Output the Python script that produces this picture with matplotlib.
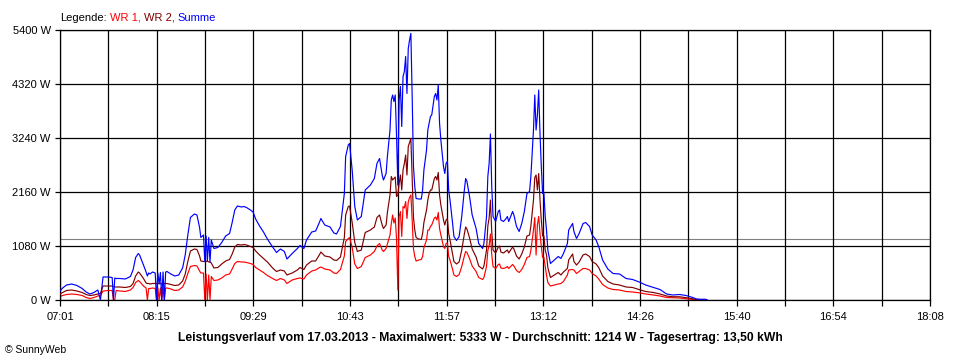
import numpy as np
import matplotlib.pyplot as plt

plt.rcParams['font.family'] = ['Liberation Sans', 'DejaVu Sans']

# Leistungsverlauf 17.03.2013 (Werte in W)
zeit = ['07:01', '07:03', '07:06', '07:10', '07:14', '07:18', '07:21', '07:24', '07:27', '07:30',
        '07:32', '07:34', '07:38', '07:41', '07:42', '07:43', '07:44', '07:47', '07:51', '07:55',
        '07:57', '07:59', '08:01', '08:02', '08:05', '08:07', '08:08', '08:09', '08:10', '08:12',
        '08:14', '08:15', '08:16', '08:17', '08:18', '08:19', '08:20', '08:21', '08:22', '08:23',
        '08:26', '08:29', '08:32', '08:35', '08:37', '08:39', '08:41', '08:44', '08:46', '08:48',
        '08:49', '08:51', '08:52', '08:53', '08:54', '08:55', '08:56', '08:57', '08:59', '09:02',
        '09:05', '09:08', '09:11', '09:13', '09:15', '09:17', '09:20', '09:22', '09:24', '09:27',
        '09:29', '09:31', '09:34', '09:37', '09:40', '09:44', '09:47', '09:50', '09:53', '09:55',
        '09:59', '10:03', '10:05', '10:08', '10:10', '10:14', '10:17', '10:20', '10:21', '10:24',
        '10:28', '10:31', '10:33', '10:36', '10:39', '10:40', '10:42', '10:43', '10:45', '10:47',
        '10:49', '10:52', '10:55', '10:59', '11:02', '11:04', '11:06', '11:08', '11:09', '11:11',
        '11:12', '11:14', '11:15', '11:16', '11:17', '11:18', '11:19', '11:20', '11:21', '11:22',
        '11:23', '11:24', '11:25', '11:26', '11:27', '11:28', '11:29', '11:30', '11:31', '11:32',
        '11:33', '11:34', '11:36', '11:38', '11:39', '11:40', '11:42', '11:43', '11:44', '11:45',
        '11:46', '11:48', '11:49', '11:50', '11:51', '11:52', '11:53', '11:55', '11:56', '11:57',
        '11:58', '11:59', '12:00', '12:02', '12:03', '12:05', '12:07', '12:09', '12:11', '12:12',
        '12:13', '12:15', '12:17', '12:20', '12:22', '12:25', '12:26', '12:28', '12:29', '12:30',
        '12:31', '12:32', '12:33', '12:35', '12:37', '12:38', '12:39', '12:41', '12:43', '12:44',
        '12:45', '12:48', '12:49', '12:51', '12:53', '12:55', '12:57', '12:59', '13:01', '13:02',
        '13:04', '13:05', '13:06', '13:07', '13:08', '13:09', '13:10', '13:11', '13:12', '13:13',
        '13:14', '13:15', '13:17', '13:20', '13:23', '13:25', '13:27', '13:30', '13:31', '13:34',
        '13:35', '13:37', '13:39', '13:42', '13:44', '13:47', '13:49', '13:52', '13:54', '13:57',
        '14:01', '14:05', '14:10', '14:15', '14:20', '14:26', '14:30', '14:36', '14:41', '14:46',
        '14:51', '14:56', '15:01', '15:06', '15:09', '15:12', '15:16', '15:17']

summe = [180, 240, 300, 320, 290, 230, 160, 120, 150, 200,
         0, 460, 460, 450, 0, 440, 430, 430, 420, 470,
         600, 850, 930, 900, 700, 560, 480, 540, 520, 560,
         540, 0, 540, 320, 550, 0, 560, 0, 560, 570,
         520, 480, 500, 640, 900, 1300, 1650, 1720, 1700, 1450,
         1250, 1300, 770, 1280, 780, 1250, 760, 1200, 1030, 1050,
         1150, 1280, 1330, 1550, 1800, 1880, 1860, 1870, 1850, 1800,
         1760, 1620, 1480, 1360, 1220, 1060, 950, 1020, 970, 820,
         930, 1030, 1090, 1030, 1200, 1360, 1380, 1560, 1630, 1500,
         1460, 1340, 1320, 1470, 2130, 2870, 3100, 3130, 2600, 1870,
         1600, 1670, 2200, 2300, 2430, 2730, 2830, 2500, 2400, 2530,
         2870, 3400, 4000, 4100, 3970, 4100, 3300, 2300, 4000, 4270,
         3470, 4470, 4570, 4870, 4130, 5030, 5200, 5333, 4070, 2670,
         2270, 2030, 2020, 2020, 2200, 2600, 3000, 3400, 3530, 3670,
         3700, 4070, 4130, 4000, 4300, 3530, 3200, 2670, 2530, 2730,
         2770, 2200, 2000, 1530, 1270, 1190, 1270, 1670, 2200, 2430,
         2370, 2070, 1700, 1430, 1130, 1030, 1130, 1670, 2470, 2730,
         3320, 2270, 1670, 1570, 1770, 1800, 1600, 1570, 1630, 1670,
         1570, 1770, 1700, 1470, 1370, 1530, 1770, 2130, 2170, 2470,
         3400, 4100, 3400, 3700, 4200, 3330, 2670, 2130, 2130, 1670,
         1400, 1000, 730, 800, 870, 830, 930, 1130, 1400, 1530,
         1370, 1230, 1330, 1530, 1550, 1470, 1300, 1200, 1070, 800,
         620, 530, 520, 430, 410, 350, 300, 250, 210, 120,
         100, 110, 90, 50, 20, 15, 15, 0]

wr2 = [120, 150, 190, 200, 180, 150, 110, 90, 100, 120,
       130, 280, 280, 280, 270, 260, 260, 260, 250, 270,
       330, 480, 560, 540, 430, 340, 330, 330, 320, 330,
       330, 330, 330, 330, 330, 320, 330, 330, 330, 330,
       310, 290, 300, 380, 520, 770, 980, 1020, 1010, 880,
       780, 770, 770, 770, 780, 760, 760, 740, 640, 650,
       720, 780, 810, 920, 1060, 1110, 1100, 1110, 1100, 1070,
       1050, 980, 900, 830, 760, 640, 570, 600, 580, 500,
       540, 600, 650, 610, 700, 780, 780, 910, 960, 880,
       860, 800, 790, 860, 1250, 1700, 1870, 1880, 1550, 1150,
       970, 1000, 1350, 1400, 1460, 1650, 1700, 1500, 1430, 1500,
       1750, 2100, 2470, 2400, 2430, 2460, 2070, 2100, 2330, 2500,
       2200, 2600, 2730, 2900, 2500, 3070, 3150, 3230, 2470, 1650,
       1400, 1250, 1220, 1210, 1330, 1550, 1800, 2000, 2130, 2200,
       2200, 2430, 2470, 2400, 2550, 2100, 1900, 1600, 1500, 1600,
       1630, 1330, 1200, 920, 770, 720, 760, 1000, 1320, 1460,
       1420, 1240, 1020, 860, 680, 620, 680, 1000, 1480, 1640,
       2000, 1360, 1000, 940, 1060, 1080, 960, 940, 980, 1000,
       940, 1060, 1020, 880, 820, 920, 1060, 1280, 1300, 1480,
       2000, 2450, 2500, 2200, 2530, 2000, 1600, 1280, 1280, 1000,
       900, 650, 450, 500, 550, 500, 560, 630, 800, 920,
       770, 700, 760, 900, 920, 870, 770, 720, 650, 480,
       370, 320, 300, 260, 250, 200, 170, 150, 120, 80,
       65, 65, 47, 25, 10, 5, 0, 0]

wr1 = [70, 90, 110, 120, 110, 90, 50, 30, 50, 80,
       90, 180, 190, 190, 0, 0, 190, 180, 170, 200,
       250, 350, 390, 370, 280, 240, 0, 230, 230, 240,
       230, 0, 240, 0, 240, 0, 240, 0, 240, 240,
       220, 190, 200, 260, 370, 530, 670, 690, 680, 580,
       540, 540, 0, 520, 0, 500, 0, 470, 390, 400,
       440, 500, 520, 620, 730, 770, 760, 760, 750, 730,
       710, 650, 600, 550, 490, 430, 390, 430, 400, 330,
       400, 430, 440, 420, 500, 580, 600, 650, 660, 620,
       600, 540, 530, 610, 880, 1170, 1230, 1250, 1050, 720,
       630, 670, 850, 900, 970, 1080, 1130, 1000, 970, 1030,
       1120, 1300, 1530, 1700, 1540, 1640, 1230, 200, 1670, 1770,
       1270, 1870, 1840, 1970, 1630, 1960, 2050, 2100, 1600, 1020,
       870, 780, 800, 810, 870, 1050, 1200, 1400, 1400, 1470,
       1500, 1640, 1660, 1600, 1750, 1430, 1300, 1070, 1030, 1130,
       1140, 870, 800, 610, 500, 470, 510, 670, 880, 970,
       950, 830, 680, 570, 450, 410, 450, 670, 990, 1090,
       1320, 910, 670, 630, 710, 720, 640, 630, 650, 670,
       630, 710, 680, 590, 550, 610, 710, 850, 870, 990,
       1400, 1650, 900, 1500, 1670, 1330, 1070, 850, 850, 670,
       500, 350, 280, 300, 320, 330, 370, 500, 600, 610,
       600, 530, 570, 630, 630, 600, 530, 480, 420, 310,
       240, 210, 200, 170, 160, 140, 120, 100, 80, 50,
       45, 40, 25, 10, 5, 0, 0, 0]

durchschnitt = 1214
y_ticks = [0, 1080, 2160, 3240, 4320, 5400]
zeit_ticks = ['07:01', '08:15', '09:29', '10:43', '11:57', '13:12', '14:26', '15:40', '16:54', '18:08']
t_start, t_end = '07:01', '18:08'


def minuten(s):
    h, m = s.split(':')
    return int(h) * 60 + int(m)


x = np.array([minuten(z) for z in zeit])

fig = plt.figure(figsize=(9.6, 3.6), dpi=100)
ax = fig.add_axes([60 / 960, 60 / 360, 870 / 960, 270 / 360])

ax.axhline(durchschnitt, color='#808080', lw=0.8, zorder=0.4)
ax.plot(x, wr1, color='#ff0000', lw=0.85, zorder=2)
ax.plot(x, wr2, color='#800000', lw=0.85, zorder=3)
ax.plot(x, summe, color='#0000ff', lw=0.85, zorder=4)

x0, x1 = minuten(t_start), minuten(t_end)
ax.set_xlim(x0, x1)
ax.set_ylim(0, 5400)

# 18 Rasterfelder, jedes zweite beschriftet
raster = np.linspace(x0, x1, 2 * len(zeit_ticks) - 1)
labels = [''] * len(raster)
labels[::2] = zeit_ticks
ax.set_xticks(raster)
ax.set_xticklabels(labels)
ax.set_yticks(y_ticks)
ax.set_yticklabels(['%d W' % v for v in y_ticks])

ax.tick_params(axis='x', length=4.3, width=0.9, pad=4.5, labelsize=8, color='black')
ax.tick_params(axis='y', length=3.6, width=0.9, pad=3, labelsize=8, color='black')
ax.grid(True, color='black', lw=0.9)
ax.set_axisbelow(True)
for s in ax.spines.values():
    s.set_color('black')
    s.set_linewidth(0.9)

# Legende oben links, Textteile aneinandergehaengt
t = fig.text(60 / 960, 1 - 23 / 360, 'Legende:', fontsize=8, va='bottom')
for txt, col in [('WR 1,', '#ff0000'), ('WR 2,', '#800000'), ('Summe', '#0000ff')]:
    t = ax.annotate(txt, xy=(1, 0), xycoords=t, xytext=(2.2, 0),
                    textcoords='offset points', fontsize=8, color=col,
                    va='bottom', ha='left', annotation_clip=False)

fig.text(0.5, 1 - 341 / 360,
         'Leistungsverlauf vom 17.03.2013 - Maximalwert: 5333 W - Durchschnitt: 1214 W - Tagesertrag: 13,50 kWh',
         ha='center', va='baseline', fontsize=8.7, fontweight='bold')
fig.text(5 / 960, 1 - 353 / 360, '\u00a9 SunnyWeb', fontsize=7.5, va='baseline')

plt.savefig('out.png', dpi=100)
plt.close()
